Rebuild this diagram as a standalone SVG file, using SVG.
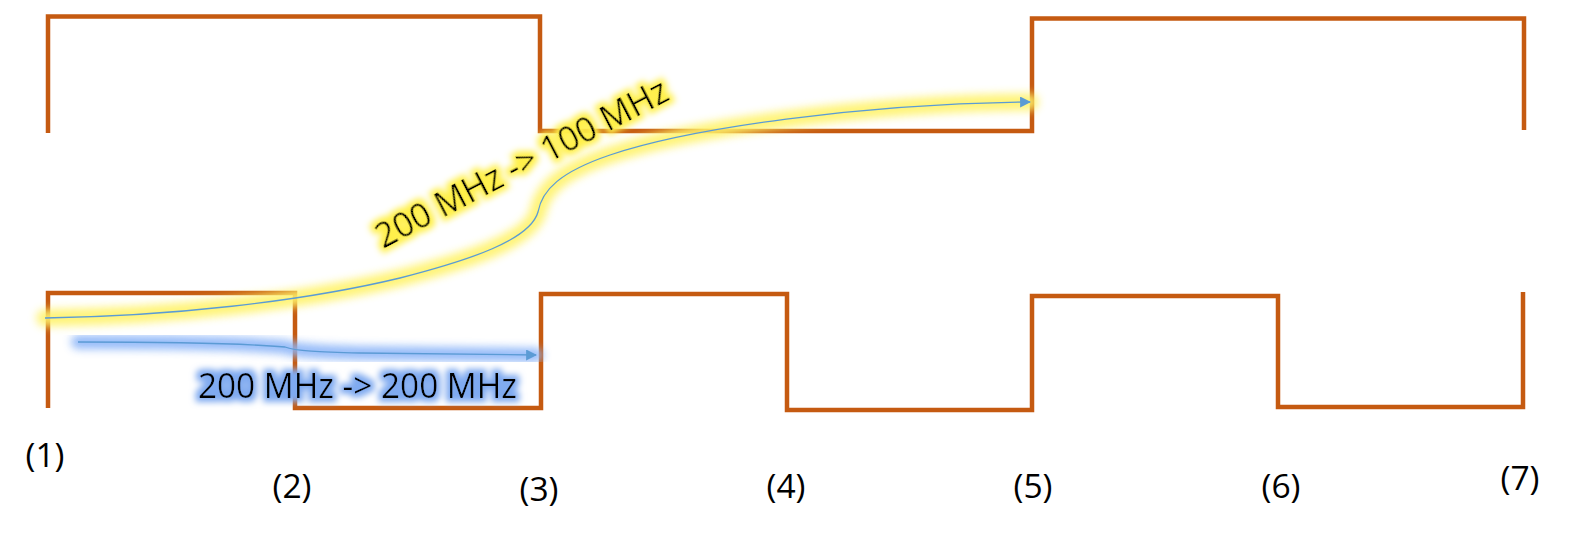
<svg xmlns="http://www.w3.org/2000/svg" width="1571" height="536" viewBox="0 0 1571 536">
<style>
.wave{fill:none;stroke:#C55A11;stroke-width:4.5;stroke-linejoin:miter;stroke-linecap:butt}
.lbl{font-family:"Open Sans","Liberation Sans",sans-serif;font-size:34px;fill:#000}
.tick{font-family:"Open Sans","Liberation Sans",sans-serif;font-size:32px;fill:#000}
.conn{fill:none;stroke:#5B9BD5;stroke-width:1.3}
</style>
<defs>
<marker id="arr" viewBox="0 0 10 10" refX="9" refY="5" markerWidth="11" markerHeight="11" markerUnits="userSpaceOnUse" orient="auto">
<path d="M0,0 L10,5 L0,10 z" fill="#5B9BD5"/>
</marker>
<filter id="gy" x="-20%" y="-50%" width="140%" height="200%">
<feGaussianBlur stdDeviation="4"/>
</filter>
<filter id="tglowY" x="-10%" y="-40%" width="120%" height="180%">
<feMorphology in="SourceAlpha" operator="dilate" radius="4" result="d"/>
<feGaussianBlur in="d" stdDeviation="3" result="b"/>
<feFlood flood-color="#FFF04A" result="f"/>
<feComposite in="f" in2="b" operator="in" result="g"/>
<feMerge><feMergeNode in="g"/><feMergeNode in="SourceGraphic"/></feMerge>
</filter>
<filter id="tglowB" x="-10%" y="-40%" width="120%" height="180%">
<feMorphology in="SourceAlpha" operator="dilate" radius="4" result="d"/>
<feGaussianBlur in="d" stdDeviation="3" result="b"/>
<feFlood flood-color="#7FAAF0" result="f"/>
<feComposite in="f" in2="b" operator="in" result="g"/>
<feMerge><feMergeNode in="g"/><feMergeNode in="SourceGraphic"/></feMerge>
</filter>
</defs>

<g id="clk-top">
<polyline class="wave" points="48,133 48,16.5 540,16.5 540,131 1032,131 1032,18.5 1524,18.5 1524,130"/>
</g>
<g id="clk-bottom">
<polyline class="wave" points="48,408 48,293 295,293 295,408 541,408 541,294 787,294 787,410 1032,410 1032,296 1278,296 1278,407 1523,407 1523,292"/>
</g>

<g id="connectors">
<path d="M45,318 C170,316 300,302 400,278 C470,260 530,240 538,212 C542,190 560,172 610,155 C690,128 860,104 1030,102" fill="none" stroke="#FFF36B" stroke-width="17" stroke-linecap="round" opacity="0.9" filter="url(#gy)"/>
<path class="conn" d="M45,318 C170,316 300,302 400,278 C470,260 530,240 538,212 C542,190 560,172 610,155 C690,128 860,104 1030,102" marker-end="url(#arr)"/>
<path d="M78,342 C180,342 250,344 285,347 C295,351 320,352 360,353 C430,354 490,355 536,355" fill="none" stroke="#8AB4F8" stroke-width="14" stroke-linecap="round" opacity="0.9" filter="url(#gy)"/>
<path class="conn" d="M78,342 C180,342 250,344 285,347 C295,351 320,352 360,353 C430,354 490,355 536,355" marker-end="url(#arr)"/>
</g>

<g id="label-100">
<text class="lbl" transform="translate(383,249) rotate(-27.5)" textLength="325" lengthAdjust="spacingAndGlyphs" filter="url(#tglowY)">200 MHz -&gt; 100 MHz</text>
</g>
<g id="label-200">
<text class="lbl" x="198" y="398" textLength="319" lengthAdjust="spacingAndGlyphs" filter="url(#tglowB)">200 MHz -&gt; 200 MHz</text>
</g>

<g id="ticks">
<text class="tick" x="45" y="467" text-anchor="middle" textLength="39" lengthAdjust="spacingAndGlyphs">(1)</text>
<text class="tick" x="292" y="498" text-anchor="middle" textLength="39" lengthAdjust="spacingAndGlyphs">(2)</text>
<text class="tick" x="539" y="501" text-anchor="middle" textLength="39" lengthAdjust="spacingAndGlyphs">(3)</text>
<text class="tick" x="786" y="498" text-anchor="middle" textLength="39" lengthAdjust="spacingAndGlyphs">(4)</text>
<text class="tick" x="1033" y="498" text-anchor="middle" textLength="39" lengthAdjust="spacingAndGlyphs">(5)</text>
<text class="tick" x="1281" y="498" text-anchor="middle" textLength="39" lengthAdjust="spacingAndGlyphs">(6)</text>
<text class="tick" x="1520" y="490" text-anchor="middle" textLength="39" lengthAdjust="spacingAndGlyphs">(7)</text>
</g>
</svg>
